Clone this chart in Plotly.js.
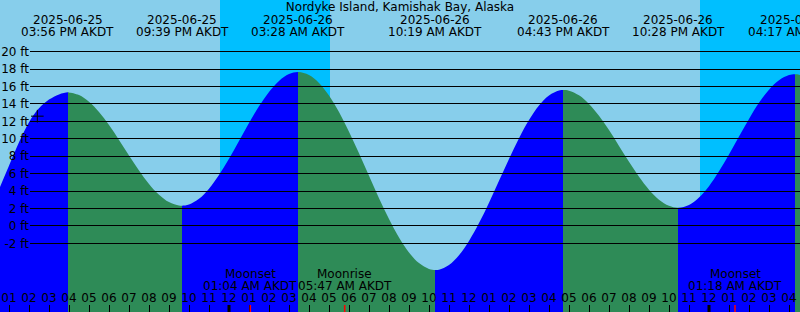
<!DOCTYPE html>
<html><head><meta charset="utf-8">
<script src="https://cdn.plot.ly/plotly-3.0.1.min.js"></script>
<style>html,body{margin:0;padding:0;overflow:hidden;background:#87CEEB}#chart{width:800px;height:312px}</style>
</head><body><div id="chart"></div>
<script>
// ---- data (half-hourly readings plus the labelled extremes) ----
const tideTimes = [
  "2025-06-25 12:30","2025-06-25 13:00","2025-06-25 13:30","2025-06-25 14:00","2025-06-25 14:30",
  "2025-06-25 15:00","2025-06-25 15:30","2025-06-25 15:56","2025-06-25 16:00","2025-06-25 16:30",
  "2025-06-25 17:00","2025-06-25 17:30","2025-06-25 18:00","2025-06-25 18:30","2025-06-25 19:00",
  "2025-06-25 19:30","2025-06-25 20:00","2025-06-25 20:30","2025-06-25 21:00","2025-06-25 21:30",
  "2025-06-25 21:39","2025-06-25 22:00","2025-06-25 22:30","2025-06-25 23:00","2025-06-25 23:30",
  "2025-06-26 00:00","2025-06-26 00:30","2025-06-26 01:00","2025-06-26 01:30","2025-06-26 02:00",
  "2025-06-26 02:30","2025-06-26 03:00","2025-06-26 03:28","2025-06-26 04:00","2025-06-26 04:30",
  "2025-06-26 05:00","2025-06-26 05:30","2025-06-26 06:00","2025-06-26 06:30","2025-06-26 07:00",
  "2025-06-26 07:30","2025-06-26 08:00","2025-06-26 08:30","2025-06-26 09:00","2025-06-26 09:30",
  "2025-06-26 10:00","2025-06-26 10:19","2025-06-26 10:30","2025-06-26 11:00","2025-06-26 11:30",
  "2025-06-26 12:00","2025-06-26 12:30","2025-06-26 13:00","2025-06-26 13:30","2025-06-26 14:00",
  "2025-06-26 14:30","2025-06-26 15:00","2025-06-26 15:30","2025-06-26 16:00","2025-06-26 16:30",
  "2025-06-26 16:43","2025-06-26 17:00","2025-06-26 17:30","2025-06-26 18:00","2025-06-26 18:30",
  "2025-06-26 19:00","2025-06-26 19:30","2025-06-26 20:00","2025-06-26 20:30","2025-06-26 21:00",
  "2025-06-26 21:30","2025-06-26 22:00","2025-06-26 22:28","2025-06-26 23:00","2025-06-26 23:30",
  "2025-06-27 00:00","2025-06-27 00:30","2025-06-27 01:00","2025-06-27 01:30","2025-06-27 02:00",
  "2025-06-27 02:30","2025-06-27 03:00","2025-06-27 03:30","2025-06-27 04:00","2025-06-27 04:17",
  "2025-06-27 04:30","2025-06-27 05:00"
];
const tideFeet = [
  4.2, 6.9, 9.6, 11.9, 13.5,
  14.5, 15.1, 15.34, 15.33, 15.03,
  14.25, 13.07, 11.58, 9.87, 8.09,
  6.37, 4.83, 3.59, 2.74, 2.35,
  2.33, 2.47, 3.12, 4.28, 5.85,
  7.72, 9.76, 11.81, 13.73, 15.38,
  16.65, 17.43, 17.67, 17.33, 16.42,
  14.98, 13.07, 10.81, 8.34, 5.75,
  3.18, 0.79, -1.33, -3.04, -4.26,
  -4.93, -5.05, -5.01, -4.47, -3.36,
  -1.72, 0.33, 2.68, 5.19, 7.70,
  10.07, 12.15, 13.82, 14.97, 15.54,
  15.6, 15.52, 14.99, 14.01, 12.64,
  11.00, 9.19, 7.36, 5.64, 4.16,
  3.02, 2.32, 2.10, 2.41, 3.26,
  4.57, 6.27, 8.21, 10.26, 12.28,
  14.13, 15.64, 16.72, 17.31, 17.4,
  17.36, 17.05
];
const extremeTimes = ["2025-06-25 15:56","2025-06-25 21:39","2025-06-26 03:28","2025-06-26 10:19",
                      "2025-06-26 16:43","2025-06-26 22:28","2025-06-27 04:17"];
const extremeKinds = ["high","low","high","low","high","low","high"];
const extremeDates = ["2025-06-25","2025-06-25","2025-06-26","2025-06-26","2025-06-26","2025-06-26","2025-06-27"];
const extremeLabels = ["03:56 PM AKDT","09:39 PM AKDT","03:28 AM AKDT","10:19 AM AKDT",
                       "04:43 PM AKDT","10:28 PM AKDT","04:17 AM AKDT"];
const moonTimes = ["2025-06-26 01:04","2025-06-26 05:47","2025-06-27 01:18"];
const moonEvents = ["Moonset","Moonrise","Moonset"];
const moonLabels = ["01:04 AM AKDT","05:47 AM AKDT","01:18 AM AKDT"];
const nightStarts = ["2025-06-25 23:33","2025-06-26 23:33"];
const nightEnds = ["2025-06-26 05:03","2025-06-27 05:03"];
const heightTicks = [-2,0,2,4,6,8,10,12,14,16,18,20];
const heightLabels = ["-2 ft","0 ft","2 ft","4 ft","6 ft","8 ft","10 ft","12 ft","14 ft","16 ft","18 ft","20 ft"];
const nowTime = "2025-06-25 14:25";
const nowFeet = 12.6;
const title = "Nordyke Island, Kamishak Bay, Alaska";

// ---- helpers ----
function toH(s){ // hours since 2025-06-25 00:00
  const [d,hm] = s.split(' ');
  const day = +d.slice(8,10) - 25;
  const [h,m] = hm.split(':').map(Number);
  return day*24 + h + m/60;
}
const W = 800, H = 312;
const xr = [12.55, 52.55];
const yr = [-9.87, 25.93];
const py = px => 1 - px/H; // paper y from pixel
const SKY = '#87CEEB', NIGHT = '#00BFFF', RISE = '#0000FF', FALL = '#2E8B57';

const tx = tideTimes.map(toH);
const g0 = 12.0, g1 = 53.0;
const cs = [[0, RISE]];
extremeTimes.forEach((t,i)=>{
  const p = (toH(t)-g0)/(g1-g0);
  const before = extremeKinds[i]==='high' ? RISE : FALL;
  const after = extremeKinds[i]==='high' ? FALL : RISE;
  cs.push([p, before]); cs.push([p, after]);
});
cs.push([1, extremeKinds[extremeKinds.length-1]==='high' ? FALL : RISE]);

const hourVals = [];
for(let h=13; h<=52; h++) hourVals.push(h);
const hourText = hourVals.map(h=>{ const v = (h%12)||12; return (v<10?'0':'')+v; });

const traces = [
  {x:[g0,g1], y:[-12,-12], mode:'lines', line:{width:0}, hoverinfo:'skip', showlegend:false},
  {x:tx, y:tideFeet, mode:'lines', line:{shape:'spline', width:0, color:'rgba(0,0,0,0)'},
   fill:'tonexty', fillgradient:{type:'horizontal', start:g0, stop:g1, colorscale:cs},
   hoverinfo:'skip', showlegend:false},
  {x:[toH(nowTime)], y:[nowFeet], mode:'markers',
   marker:{symbol:'cross-thin', size:9, color:'#000', line:{width:1, color:'#000'}},
   hoverinfo:'skip', showlegend:false}
];

const shapes = [];
nightStarts.forEach((s,i)=>{
  shapes.push({type:'rect', xref:'x', yref:'paper', x0:toH(s), x1:toH(nightEnds[i]), y0:0, y1:1,
               fillcolor:NIGHT, line:{width:0}, layer:'below'});
});
hourVals.filter(h=>h%24===0).forEach(h=>{
  shapes.push({type:'line', xref:'x', yref:'paper', x0:h, x1:h, y0:0, y1:7/H, line:{color:'#000', width:3}});
});
moonTimes.forEach(t=>{
  shapes.push({type:'line', xref:'x', yref:'paper', x0:toH(t), x1:toH(t), y0:0, y1:7/H, line:{color:'#FF0000', width:1.5}});
});

const annotations = [];
const fnt = {family:'DejaVu Sans', size:12, color:'#000'};
extremeTimes.forEach((t,i)=>{
  annotations.push({x:toH(t), xref:'x', y:py(19.8), yref:'paper', text:extremeDates[i], showarrow:false,
                    xanchor:'center', yanchor:'middle', font:fnt});
  annotations.push({x:toH(t), xref:'x', y:py(32.5), yref:'paper', text:extremeLabels[i], showarrow:false,
                    xanchor:'center', yanchor:'middle', font:fnt});
});
moonTimes.forEach((t,i)=>{
  annotations.push({x:toH(t), xref:'x', y:py(274.3), yref:'paper', text:moonEvents[i], showarrow:false,
                    xanchor:'center', yanchor:'middle', font:fnt});
  annotations.push({x:toH(t), xref:'x', y:py(285.8), yref:'paper', text:moonLabels[i], showarrow:false,
                    xanchor:'center', yanchor:'middle', font:fnt});
});

const layout = {
  width:W, height:H, margin:{l:0,r:0,t:0,b:0,pad:0},
  paper_bgcolor:SKY, plot_bgcolor:SKY, showlegend:false,
  font:fnt,
  title:{text:title, x:0.5, xanchor:'center', xref:'paper', y:py(6.8), yref:'container', yanchor:'middle', font:fnt},
  xaxis:{range:xr, type:'linear', tickmode:'array', tickvals:hourVals, ticktext:hourText, ticks:'inside', ticklen:7,
         tickwidth:1, tickcolor:'#000', ticklabelposition:'inside', showgrid:false, zeroline:false,
         showline:false, tickfont:fnt, fixedrange:true},
  yaxis:{range:yr, anchor:'free', position:29/W, side:'left', tickmode:'array', tickvals:heightTicks, ticktext:heightLabels,
         ticks:'inside', ticklen:771, tickwidth:1, tickcolor:'#000', showgrid:false, zeroline:false,
         showline:false, tickfont:fnt, fixedrange:true},
  shapes:shapes, annotations:annotations
};
Plotly.newPlot('chart', traces, layout, {staticPlot:true, displayModeBar:false});
</script></body></html>
